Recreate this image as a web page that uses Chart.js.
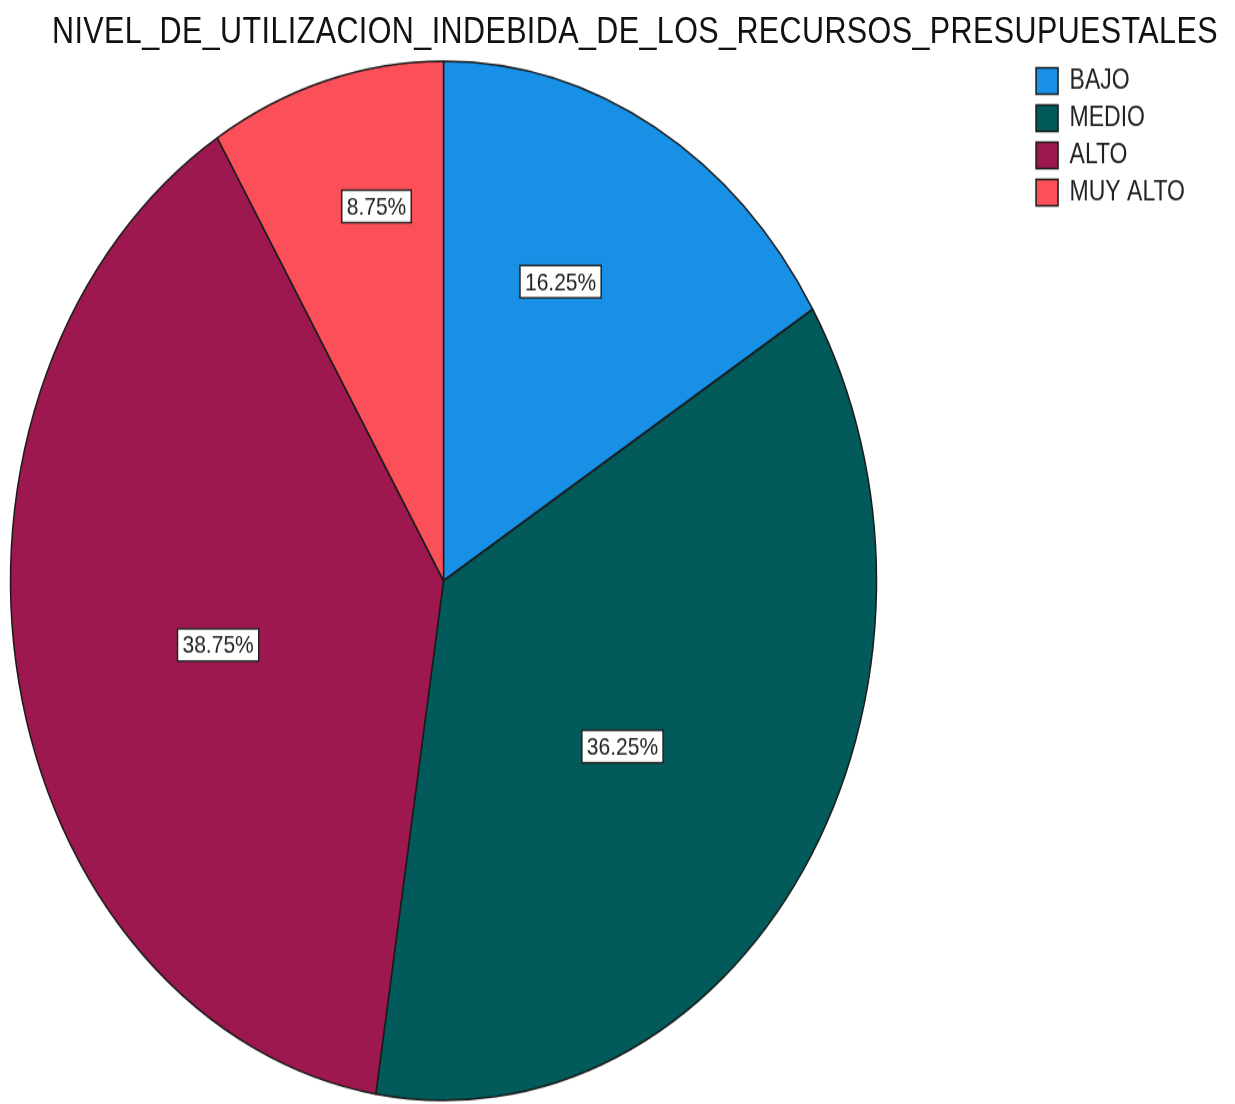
<!DOCTYPE html>
<html>
<head>
<meta charset="utf-8">
<script src="https://cdn.jsdelivr.net/npm/chart.js@4.4.1/dist/chart.umd.min.js"></script>
<style>
  html, body { margin:0; padding:0; background:#fff; overflow:hidden; }
  /* la imagen original esta estirada en vertical, se reproduce con un scale */
  #lienzo { position:absolute; left:0; top:0; width:1235px; height:920px; transform:scale(1, 1.2); transform-origin:0 0; }
  #titulo { position:absolute; left:0; top:8px; width:1270px; text-align:center; font:30.5px "Liberation Sans", Arial, sans-serif; letter-spacing:0.4px; color:#111; white-space:nowrap; }
  /* el lienzo empieza fuera de la ventana para que el pastel quede a la izquierda */
  canvas { position:absolute; left:-141px; top:0; }
</style>
</head>
<body>
<div id="lienzo">
  <div id="titulo">NIVEL_DE_UTILIZACION_INDEBIDA_DE_LOS_RECURSOS_PRESUPUESTALES</div>
  <canvas id="grafica" width="1376" height="920"></canvas>
</div>
<script>
const categorias = ['BAJO', 'MEDIO', 'ALTO', 'MUY ALTO'];
const porcentajes = [16.25, 36.25, 38.75, 8.75];
const colores = ['#1790E6', '#025A5A', '#9E1850', '#FB505A'];

// Etiquetas en recuadro blanco dentro de cada sector (t = fraccion del angulo, r = fraccion del radio)
const etiquetasPlugin = {
  id: 'etiquetas',
  afterDatasetsDraw(chart, args, opts){
    const ctx = chart.ctx;
    const meta = chart.getDatasetMeta(0);
    ctx.save();
    ctx.font = opts.font;
    ctx.textAlign = 'center';
    ctx.textBaseline = 'middle';
    meta.data.forEach((arc, i) => {
      const p = arc.getProps(['x', 'y', 'startAngle', 'endAngle', 'outerRadius'], true);
      const pos = opts.posiciones[i];
      const ang = p.startAngle + (p.endAngle - p.startAngle) * pos.t;
      const r = p.outerRadius * pos.r;
      const x = p.x + Math.cos(ang) * r;
      const y = p.y + Math.sin(ang) * r;
      const texto = porcentajes[i].toFixed(2) + '%';
      const w = ctx.measureText(texto).width + 10;
      const h = 27;
      ctx.fillStyle = '#FFFFFF';
      ctx.fillRect(x - w / 2, y - h / 2, w, h);
      ctx.lineWidth = 1.5;
      ctx.strokeStyle = '#222222';
      ctx.strokeRect(x - w / 2, y - h / 2, w, h);
      ctx.fillStyle = '#222222';
      ctx.fillText(texto, x, y + 1);
    });
    ctx.restore();
  }
};

new Chart(document.getElementById('grafica'), {
  type: 'pie',
  data: {
    labels: categorias,
    datasets: [{
      data: porcentajes,
      backgroundColor: colores,
      borderColor: '#1a1a1a',
      borderWidth: 1.5,
      radius: 433
    }]
  },
  options: {
    responsive: false,
    animation: false,
    layout: { padding: { left: 0, right: 40, top: 48, bottom: 0 } },
    plugins: {
      tooltip: { enabled: false },
      legend: {
        position: 'right',
        align: 'start',
        labels: {
          color: '#222222',
          font: { family: '"Liberation Sans", Arial, sans-serif', size: 23 },
          boxWidth: 22,
          boxHeight: 22,
          padding: 8
        }
      },
      etiquetas: {
        font: '21px "Liberation Sans", Arial, sans-serif',
        posiciones: [
          { t: 0.43, r: 0.636 },
          { t: 0.53, r: 0.522 },
          { t: 0.485, r: 0.535 },
          { t: 0.615, r: 0.737 }
        ]
      }
    }
  },
  plugins: [etiquetasPlugin]
});
</script>
</body>
</html>
